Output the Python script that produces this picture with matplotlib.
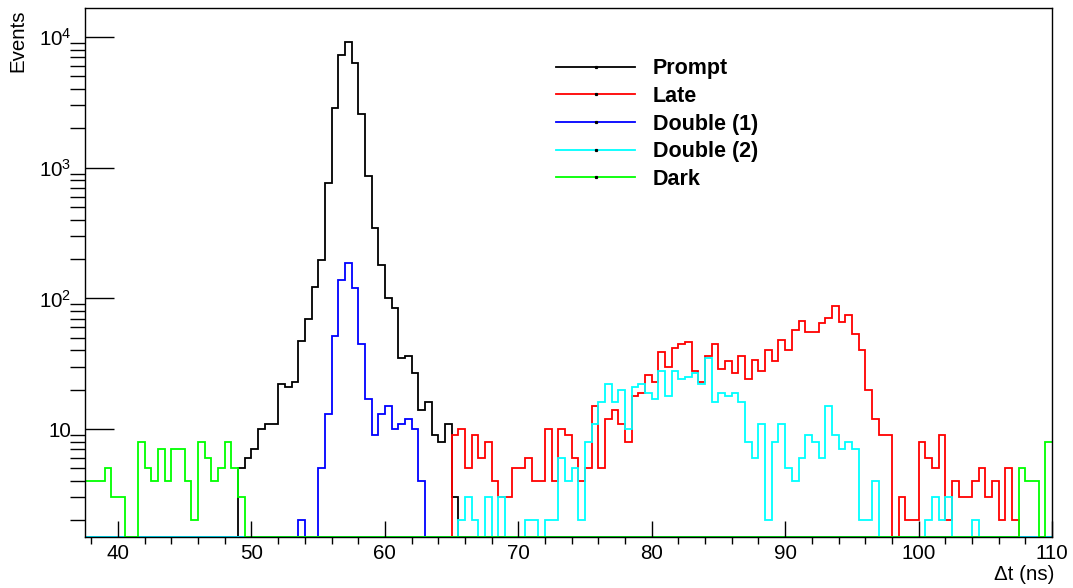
import numpy as np
import matplotlib.pyplot as plt
from matplotlib.lines import Line2D
from matplotlib.ticker import FixedLocator, LogLocator, MultipleLocator, NullFormatter

plt.rcParams['font.family'] = ['Liberation Sans', 'DejaVu Sans']

# binning: 0.5 ns bins from 37.5 to 110 ns
edges = np.linspace(37.5, 110, 146)
nbins = len(edges) - 1

# counts, each list starts at the given bin index
prompt_start = 23
prompt_vals = [5, 6, 7, 10, 11, 11, 22, 21, 23, 47, 70, 123, 197, 770, 2890, 7350,
               9250, 6300, 2570, 860, 345, 181, 100, 84, 35, 36, 27, 14, 16, 9, 8, 11, 3]

late_start = 55
late_vals = [9, 10, 5, 9, 6, 8, 4, 3, 3, 5,
             5, 6, 4, 4, 10, 4, 10, 9, 6, 4,
             5, 15, 5, 12, 14, 11, 8, 18, 19, 26,
             23, 39, 30, 42, 45, 46, 28, 23, 36, 45,
             29, 33, 27, 36, 24, 34, 28, 40, 33, 48,
             40, 57, 67, 55, 55, 65, 71, 87, 66, 75,
             53, 40, 20, 12, 9, 9, 0, 3, 2, 2,
             8, 6, 5, 9, 2, 4, 3, 3, 4, 5,
             3, 4, 2, 5, 2]

double1_start = 32
double1_vals = [2, 0, 0, 5, 13, 52, 139, 188, 121, 45, 17, 9, 13, 15, 10, 11, 12, 10, 4]

double2_start = 56
double2_vals = [2, 3, 2, 0, 3, 0, 3, 0, 0, 0,
                2, 2, 0, 2, 2, 6, 4, 5, 2, 8,
                11, 16, 22, 16, 20, 10, 21, 22, 19, 17,
                28, 18, 28, 24, 25, 27, 22, 35, 16, 19,
                18, 19, 16, 8, 6, 11, 2, 8, 11, 5,
                4, 6, 9, 8, 6, 15, 9, 7, 8, 7,
                2, 2, 4, 0, 0, 0, 0, 0, 0, 0,
                2, 3, 2, 3, 0, 0, 0, 2]

dark_start_a = 0
dark_vals_a = [4, 4, 4, 5, 3, 3, 0, 0, 8, 5, 4, 7, 4, 7, 7, 4, 2, 8, 6, 4, 5, 8, 5, 3]
dark_start_b = 140
dark_vals_b = [5, 4, 4, 0, 8]


def fill(parts):
    h = np.zeros(nbins)
    for start, vals in parts:
        h[start:start + len(vals)] = vals
    return h


prompt = fill([(prompt_start, prompt_vals)])
late = fill([(late_start, late_vals)])
double1 = fill([(double1_start, double1_vals)])
double2 = fill([(double2_start, double2_vals)])
dark = fill([(dark_start_a, dark_vals_a), (dark_start_b, dark_vals_b)])

names = ['Prompt', 'Late', 'Double (1)', 'Double (2)', 'Dark']
colors = ['#000000', '#ff0000', '#0000ff', '#00ffff', '#00ff00']
series = [prompt, late, double1, double2, dark]

ymin, ymax = 1.5, 16700

fig = plt.figure(figsize=(10.73, 5.88), dpi=100)
ax = fig.add_axes([84.7 / 1073, 1 - 536.7 / 588, (1052 - 84.7) / 1073, (536.7 - 8) / 588])
ax.set_yscale('log')

# ROOT draws empty bins on the bottom of the frame
for h, c in zip(series, colors):
    ax.stairs(np.maximum(h, ymin), edges, baseline=None, color=c, lw=1.3)

ax.set_xlim(37.5, 110)
ax.set_ylim(ymin, ymax)

ax.xaxis.set_major_locator(MultipleLocator(10))
ax.xaxis.set_minor_locator(MultipleLocator(2))
ax.yaxis.set_major_locator(FixedLocator([10, 100, 1000, 10000]))
ax.yaxis.set_ticklabels(['10', r'$\mathregular{10^{2}}$', r'$\mathregular{10^{3}}$',
                         r'$\mathregular{10^{4}}$'])
ax.yaxis.set_minor_locator(LogLocator(base=10, subs=np.arange(2, 10)))
ax.yaxis.set_minor_formatter(NullFormatter())

ax.tick_params(axis='both', direction='in', top=False, right=False, labelsize=14.8)
ax.tick_params(axis='x', which='major', length=11.3, width=1.0, pad=5)
ax.tick_params(axis='x', which='minor', length=5.3, width=1.0)
ax.tick_params(axis='y', which='major', length=20.7, width=1.0, pad=9.5)
ax.tick_params(axis='y', which='minor', length=10.6, width=1.0)
for s in ax.spines.values():
    s.set_linewidth(1.0)

fig.text(18 / 1073, 1 - 9 / 588, 'Events', rotation=90, ha='center', va='top', fontsize=14.8)
fig.text(1054 / 1073, 1 - 574 / 588, 'Δt (ns)', ha='right', va='center', fontsize=14.8)

handles = [Line2D([], [], color=c, lw=1.3, marker='s', ms=1.3, mfc='k', mec='k') for c in colors]
ax.legend(handles, names, loc='upper left', bbox_to_anchor=(0.487, 0.905), frameon=False,
          prop={'weight': 'bold', 'size': 15.5}, handlelength=3.7, handletextpad=0.8,
          labelspacing=0.31, borderpad=0, borderaxespad=0)

fig.savefig('out.png', dpi=100)
